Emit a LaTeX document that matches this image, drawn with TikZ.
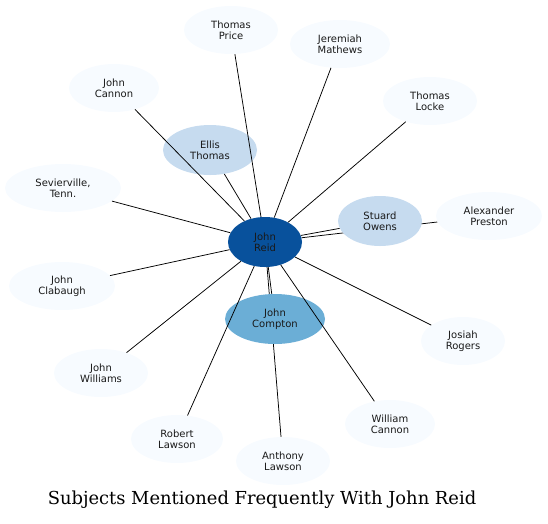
\documentclass[tikz,border=0pt]{standalone}
\usepackage{fontspec}
\setmainfont{DejaVu Sans}
\newfontfamily\titlefont{DejaVu Serif}
\usetikzlibrary{shapes.geometric,backgrounds}
\definecolor{outerfill}{HTML}{F7FBFF}
\definecolor{midfill}{HTML}{C6DBEF}
\definecolor{compfill}{HTML}{6BAED6}
\definecolor{centerfill}{HTML}{08519C}
\begin{document}
\begin{tikzpicture}[x=1pt,y=-1pt,
  person/.style={ellipse,inner sep=0pt,align=center,font=\fontsize{10}{11}\selectfont,text=black!90},
  outer/.style={person,fill=outerfill,minimum height=48pt},
  edge/.style={draw=black,line width=0.75pt}]
\useasboundingbox (0,0) rectangle (548,523);
\node[person,fill=centerfill,minimum width=74pt,minimum height=50pt] (reid) at (265,242) {John\\Reid};
\node[outer,minimum width=94pt] (price) at (231,30) {Thomas\\Price};
\node[outer,minimum width=100pt] (mathews) at (340,44) {Jeremiah\\Mathews};
\node[outer,minimum width=90pt] (jcannon) at (114,88) {John\\Cannon};
\node[outer,minimum width=94pt] (locke) at (430,101) {Thomas\\Locke};
\node[person,fill=midfill,minimum width=94pt,minimum height=50pt] (ellis) at (210,150) {Ellis\\Thomas};
\node[outer,minimum width=116pt] (sevier) at (63,188) {Sevierville,\\Tenn.};
\node[person,fill=midfill,minimum width=84pt,minimum height=50pt] (owens) at (380,221) {Stuard\\Owens};
\node[outer,minimum width=106pt] (preston) at (489,216) {Alexander\\Preston};
\node[outer,minimum width=106pt] (clabaugh) at (62,286) {John\\Clabaugh};
\node[person,fill=compfill,minimum width=100pt,minimum height=50pt] (compton) at (275,319) {John\\Compton};
\node[outer,minimum width=84pt] (rogers) at (463,341) {Josiah\\Rogers};
\node[outer,minimum width=94pt] (williams) at (101,373) {John\\Williams};
\node[outer,minimum width=90pt] (wcannon) at (390,424) {William\\Cannon};
\node[outer,minimum width=92pt] (rlawson) at (177,439) {Robert\\Lawson};
\node[outer,minimum width=94pt] (alawson) at (283,461) {Anthony\\Lawson};
\node[font=\titlefont\fontsize{17.9}{20}\selectfont] (title) at (262,500) {Subjects Mentioned Frequently With John Reid};
\foreach \n in {price,mathews,jcannon,locke,ellis,sevier,owens,clabaugh,compton,rogers,williams,wcannon,rlawson}
  \draw[edge] (reid) -- (\n);
\begin{scope}[on background layer]
\foreach \n in {preston,alawson}
  \draw[edge] (reid) -- (\n);
\end{scope}
\end{tikzpicture}
\end{document}
